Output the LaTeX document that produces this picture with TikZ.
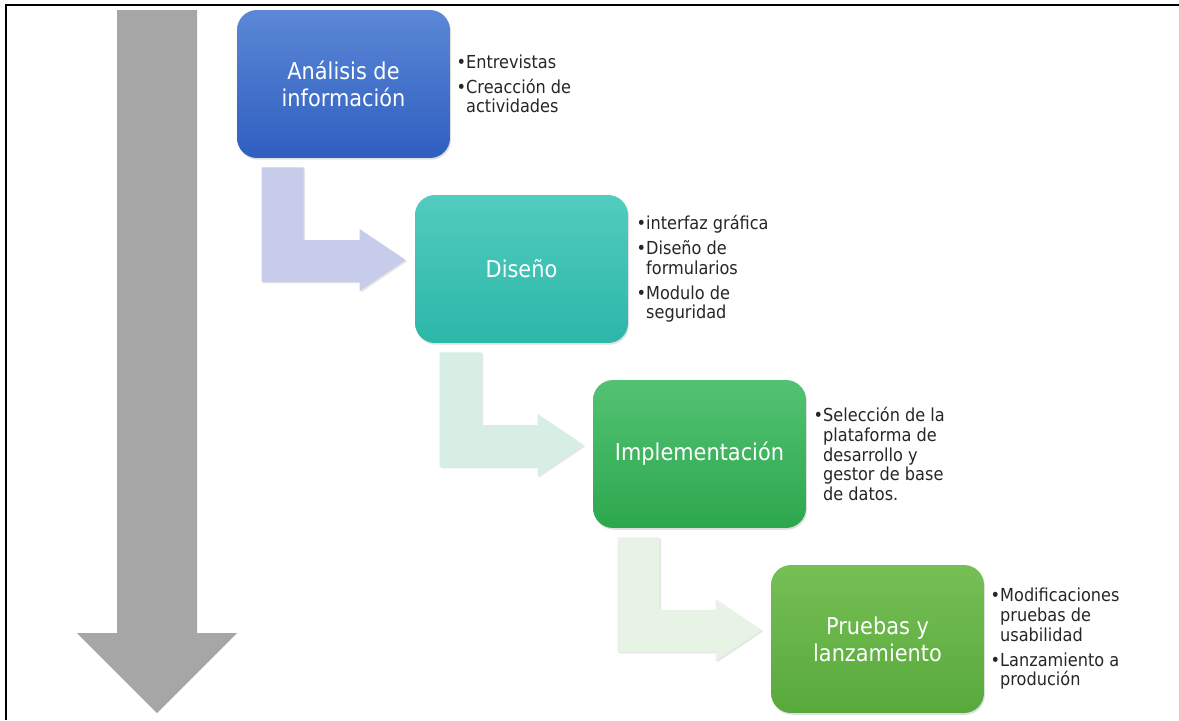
\documentclass[tikz,border=0pt]{standalone}
\usepackage{fontspec}
\newfontfamily\stagefont{DejaVu Sans}[FakeStretch=0.9]
\usetikzlibrary{positioning,calc,shadows}

\definecolor{anatop}{HTML}{5B88D6}
\definecolor{anabot}{HTML}{2F5EC0}
\definecolor{distop}{HTML}{52CCBE}
\definecolor{disbot}{HTML}{2CB7A9}
\definecolor{imptop}{HTML}{52C272}
\definecolor{impbot}{HTML}{2DA74D}
\definecolor{prutop}{HTML}{76BF55}
\definecolor{prubot}{HTML}{58A93C}
\definecolor{bendone}{HTML}{C6CCE9}
\definecolor{bendtwo}{HTML}{D7EEE5}
\definecolor{bendthree}{HTML}{E7F3E5}
\definecolor{timegray}{HTML}{A6A6A6}

\newcommand\bul{\textbullet}
\newcommand\ind{\phantom{\textbullet}}

% L-shaped arrow from one stage to the next
\newcommand\stepbend[3]{%
  \coordinate (s) at ($(#1.south west)+(25,9)$);
  \coordinate (t) at ($(#2.west)+(-9,-9)$);
  \fill[#3, bend shadow] (s) -- ++(42,0) |- ($(t)+(-46,-20)$) -- ++(0,-11)
    -- (t) -- ++(-46,31) -- ++(0,-9) coordinate (u) -- (s |- u) -- cycle;
}

\tikzset{
  stage/.style={rounded corners=0.4cm, minimum width=4.26cm, minimum height=2.96cm,
    text=white, align=center, font=\stagefont\fontsize{13.2}{15.5}\selectfont,
    drop shadow={opacity=0.25, shadow xshift=0.6pt, shadow yshift=-1pt}},
  notes/.style={align=left, inner sep=0pt, text=black!85,
    font=\stagefont\fontsize{10.2}{11.2}\selectfont},
  bend shadow/.style={drop shadow={opacity=0.2, shadow xshift=0.8pt, shadow yshift=-0.8pt}}
}

\begin{document}
\begin{tikzpicture}[x=0.02cm, y=-0.02cm]
  \useasboundingbox (0,0) rectangle (1179,720);
  \fill[white] (0,0) rectangle (1179,720);

  % frame
  \draw[line width=1.3pt] (6,720) -- (6,5) -- (1179,5);

  % time arrow
  \fill[timegray] (117,10) -- (197,10) -- (197,633) -- (237,633)
    -- (157,713) -- (77,633) -- (117,633) -- cycle;

  % stages
  \node[stage, top color=anatop, bottom color=anabot] (ana) at (343.5,84) {Análisis de\\información};
  \node[stage, top color=distop, bottom color=disbot] (dis) at (521.5,269) {Diseño};
  \node[stage, top color=imptop, bottom color=impbot] (imp) at (699.5,454) {Implementación};
  \node[stage, top color=prutop, bottom color=prubot] (pru) at (877.5,639) {Pruebas y\\lanzamiento};

  \stepbend{ana}{dis}{bendone}
  \stepbend{dis}{imp}{bendtwo}
  \stepbend{imp}{pru}{bendthree}

  % notes
  \node[notes, right=0.12cm of ana] (anatxt) {\bul Entrevistas\\[3pt]\bul Creacción de\\\ind actividades};
  \node[notes, right=0.16cm of dis] (distxt) {\bul interfaz gráfica\\[3pt]\bul Diseño de\\\ind formularios\\[3pt]\bul Modulo de\\\ind seguridad};
  \node[notes, right=0.14cm of imp] (imptxt) {\bul Selección de la\\\ind plataforma de\\\ind desarrollo y\\\ind gestor de base\\\ind de datos.};
  \node[notes, right=0.12cm of pru] (prutxt) {\bul Modificaciones\\\ind pruebas de\\\ind usabilidad\\[3pt]\bul Lanzamiento a\\\ind produción};
\end{tikzpicture}
\end{document}
